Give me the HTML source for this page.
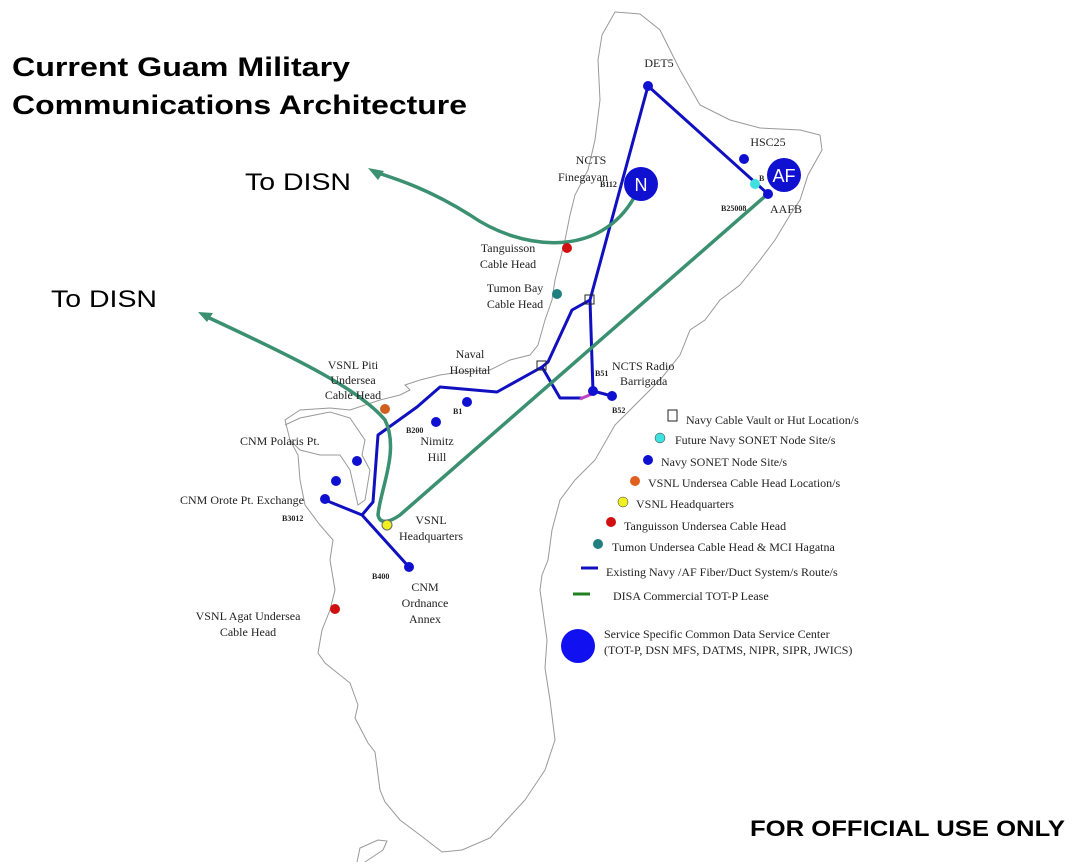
<!DOCTYPE html>
<html><head><meta charset="utf-8"><style>
html,body{margin:0;padding:0;background:#fff;}
svg{display:block;}
.t{font-family:"Liberation Serif",serif;font-size:12px;fill:#222;}
.b{font-family:"Liberation Serif",serif;font-size:8px;font-weight:bold;fill:#222;}
.s{font-family:"Liberation Sans",sans-serif;}
</style></head><body>
<svg width="1080" height="865" viewBox="0 0 1080 865" xmlns="http://www.w3.org/2000/svg">
<rect width="1080" height="865" fill="#fff"/>
<!-- island outline -->
<path d="M615,12 L640,14 L660,30 L680,70 L700,105 L730,120 L760,128 L800,130 L820,135 L822,150 L808,175 L800,200 L790,215 L775,240 L760,260 L740,285 L720,300 L705,320 L690,330 L680,355 L660,380 L640,400 L615,425 L595,460 L575,480 L560,500 L552,530 L548,560 L542,575 L540,590 L547,640 L545,668 L550,700 L555,740 L545,770 L525,800 L490,838 L462,850 L442,852 L420,835 L400,820 L385,802 L380,790 L375,752 L368,743 L355,718 L358,705 L350,683 L325,663 L318,653 L322,630 L330,610 L335,590 L330,560 L333,540 L320,525 L305,505 L300,480 L298,455 L290,440 L285,420 L300,410 L330,408 L350,410 L380,400 L400,395 L410,390 L405,385 L420,380 L440,375 L460,372 L490,370 L510,360 L530,355 L538,345 L545,320 L552,300 L555,280 L560,260 L565,240 L570,215 L575,195 L588,170 L595,140 L600,100 L598,60 L602,35 Z" fill="#fff" stroke="#999" stroke-width="1"/>
<path d="M357,862 L360,848 L378,840 L387,841 L383,850 L365,862" fill="none" stroke="#999" stroke-width="1"/>
<path d="M285,425 L300,418 L330,412 L350,418 L365,440 L362,455 L370,470 L365,500 L358,505 L350,470 L340,455 L320,455 L300,450 L290,440" fill="none" stroke="#999" stroke-width="1"/>
<!-- blue routes -->
<g fill="none" stroke="#1010c0" stroke-width="3" stroke-linejoin="round">
<polyline points="768,194 648,86 590,300 593,391"/>
<polyline points="590,300 572,310 548,362 542,367 497,392 440,387 417,407 378,435 373,502 362,515"/>
<polyline points="542,367 560,398 583,398"/>
<polyline points="325,500 362,515 409,567"/>
<polyline points="593,391 612,396"/>
</g>
<line x1="580" y1="399" x2="592" y2="394" stroke="#c040c0" stroke-width="3"/>
<!-- green routes -->
<g fill="none" stroke="#3a9070" stroke-width="3.5" stroke-linecap="round">
<path d="M635,196 C600,260 520,250 470,215 C430,190 400,180 375,172"/>
<path d="M205,316 C300,360 360,390 385,420 C400,450 380,490 378,515 C380,525 390,522 400,515 L770,192"/>
</g>
<polygon points="368,168 384,171 378,180" fill="#3a9070"/>
<polygon points="198,312 213,313 207,322" fill="#3a9070"/>
<!-- vault boxes -->
<rect x="585" y="295" width="9" height="9" fill="none" stroke="#222"/>
<rect x="537" y="361" width="9" height="9" fill="none" stroke="#222"/>
<!-- nodes -->
<g fill="#1010d0">
<circle cx="648" cy="86" r="5"/><circle cx="744" cy="159" r="5"/><circle cx="768" cy="194" r="5"/>
<circle cx="593" cy="391" r="5"/><circle cx="612" cy="396" r="5"/><circle cx="467" cy="402" r="5"/>
<circle cx="436" cy="422" r="5"/><circle cx="357" cy="461" r="5"/><circle cx="336" cy="481" r="5"/>
<circle cx="325" cy="499" r="5"/><circle cx="409" cy="567" r="5"/>
<circle cx="641" cy="184" r="17"/><circle cx="784" cy="175" r="17"/>
</g>
<circle cx="755" cy="184" r="5" fill="#40e0e0"/>
<circle cx="567" cy="248" r="5" fill="#d01010"/>
<circle cx="557" cy="294" r="5" fill="#208080"/>
<circle cx="385" cy="409" r="5" fill="#d06020"/>
<circle cx="387" cy="525" r="5" fill="#f0f020" stroke="#666"/>
<circle cx="335" cy="609" r="5" fill="#d01010"/>
<text x="641" y="191" class="s" font-size="18" fill="#fff" text-anchor="middle">N</text>
<text x="784" y="182" class="s" font-size="18" fill="#fff" text-anchor="middle">AF</text>
<!-- labels -->
<text class="t" x="659" y="67" text-anchor="middle">DET5</text>
<text class="t" x="768" y="146" text-anchor="middle">HSC25</text>
<text class="t" x="591" y="164" text-anchor="middle">NCTS</text>
<text class="t" x="583" y="181" text-anchor="middle">Finegayan</text>
<text class="b" x="600" y="187">B112</text>
<text class="b" x="759" y="181">B</text>
<text class="b" x="721" y="211">B25008</text>
<text class="t" x="786" y="213" text-anchor="middle">AAFB</text>
<text class="t" x="508" y="252" text-anchor="middle">Tanguisson</text>
<text class="t" x="508" y="268" text-anchor="middle">Cable Head</text>
<text class="t" x="515" y="292" text-anchor="middle">Tumon Bay</text>
<text class="t" x="515" y="308" text-anchor="middle">Cable Head</text>
<text class="t" x="470" y="358" text-anchor="middle">Naval</text>
<text class="t" x="470" y="374" text-anchor="middle">Hospital</text>
<text class="t" x="612" y="370">NCTS Radio</text>
<text class="t" x="620" y="385">Barrigada</text>
<text class="b" x="595" y="376">B51</text>
<text class="b" x="612" y="413">B52</text>
<text class="t" x="353" y="369" text-anchor="middle">VSNL Piti</text>
<text class="t" x="353" y="384" text-anchor="middle">Undersea</text>
<text class="t" x="353" y="399" text-anchor="middle">Cable Head</text>
<text class="b" x="453" y="414">B1</text>
<text class="b" x="406" y="433">B200</text>
<text class="t" x="437" y="445" text-anchor="middle">Nimitz</text>
<text class="t" x="437" y="461" text-anchor="middle">Hill</text>
<text class="t" x="240" y="445">CNM Polaris Pt.</text>
<text class="t" x="180" y="504">CNM Orote Pt. Exchange</text>
<text class="b" x="282" y="521">B3012</text>
<text class="t" x="431" y="524" text-anchor="middle">VSNL</text>
<text class="t" x="431" y="540" text-anchor="middle">Headquarters</text>
<text class="b" x="372" y="579">B400</text>
<text class="t" x="425" y="591" text-anchor="middle">CNM</text>
<text class="t" x="425" y="607" text-anchor="middle">Ordnance</text>
<text class="t" x="425" y="623" text-anchor="middle">Annex</text>
<text class="t" x="248" y="620" text-anchor="middle">VSNL Agat Undersea</text>
<text class="t" x="248" y="636" text-anchor="middle">Cable Head</text>
<!-- legend -->
<rect x="668" y="410" width="9" height="11" fill="none" stroke="#222"/>
<text class="t" x="686" y="424">Navy Cable Vault or Hut Location/s</text>
<circle cx="660" cy="438" r="5" fill="#40e0e0" stroke="#333" stroke-width="0.5"/>
<text class="t" x="675" y="444">Future Navy SONET Node Site/s</text>
<circle cx="648" cy="460" r="5" fill="#1010d0"/>
<text class="t" x="661" y="466">Navy SONET Node Site/s</text>
<circle cx="635" cy="481" r="5" fill="#e06020"/>
<text class="t" x="648" y="487">VSNL Undersea Cable Head Location/s</text>
<circle cx="623" cy="502" r="5" fill="#f0f020" stroke="#333" stroke-width="0.5"/>
<text class="t" x="636" y="508">VSNL Headquarters</text>
<circle cx="611" cy="522" r="5" fill="#d01010"/>
<text class="t" x="624" y="530">Tanguisson Undersea Cable Head</text>
<circle cx="598" cy="544" r="5" fill="#208080"/>
<text class="t" x="612" y="551">Tumon Undersea Cable Head &amp; MCI Hagatna</text>
<line x1="581" y1="568" x2="598" y2="568" stroke="#1010c0" stroke-width="3"/>
<text class="t" x="606" y="576">Existing Navy /AF Fiber/Duct System/s Route/s</text>
<line x1="573" y1="594" x2="590" y2="594" stroke="#208020" stroke-width="3"/>
<text class="t" x="613" y="600">DISA Commercial TOT-P Lease</text>
<circle cx="578" cy="646" r="17" fill="#1010f0"/>
<text class="t" x="604" y="638">Service Specific Common Data Service Center</text>
<text class="t" x="604" y="654">(TOT-P, DSN MFS, DATMS, NIPR, SIPR, JWICS)</text>
<!-- titles -->
<text class="s" x="12" y="76" font-size="27" font-weight="bold" fill="#000" textLength="338" lengthAdjust="spacingAndGlyphs">Current Guam Military</text>
<text class="s" x="12" y="114" font-size="27" font-weight="bold" fill="#000" textLength="455" lengthAdjust="spacingAndGlyphs">Communications  Architecture</text>
<text class="s" x="245" y="190" font-size="24" fill="#000" textLength="106" lengthAdjust="spacingAndGlyphs">To DISN</text>
<text class="s" x="51" y="307" font-size="24" fill="#000" textLength="106" lengthAdjust="spacingAndGlyphs">To DISN</text>
<text class="s" x="750" y="836" font-size="22" font-weight="bold" fill="#000" textLength="315" lengthAdjust="spacingAndGlyphs">FOR OFFICIAL USE ONLY</text>
</svg>
</body></html>
